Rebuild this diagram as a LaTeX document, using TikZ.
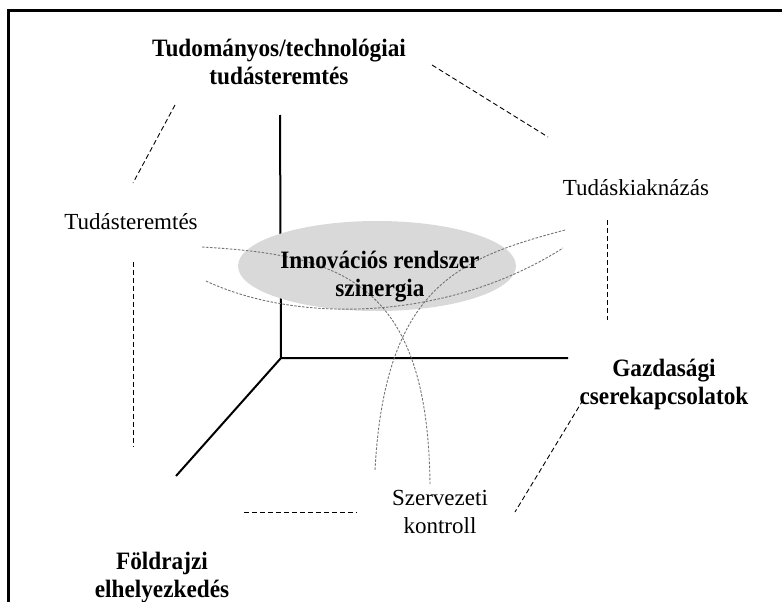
\documentclass[tikz,border=0pt]{standalone}
\usepackage{fontspec}
\setmainfont{Liberation Serif}[BoldFeatures={FakeStretch=0.93}]
\usetikzlibrary{shapes.geometric}
\begin{document}
\begin{tikzpicture}[x=1pt,y=-1pt]
	\tikzset{cimke/.style={align=center, inner sep=0pt, font=\fontsize{23}{28}\selectfont},
	fcimke/.style={cimke, font=\fontsize{25}{28}\selectfont\bfseries},
	tengely/.style={line width=2pt},
	valaszto/.style={dash pattern=on 5pt off 3pt, line width=0.9pt},
	gorbe/.style={black!55, dash pattern=on 2.5pt off 1.5pt, line width=0.9pt}};
	\useasboundingbox (0,0) rectangle (782,602);

	% keret
	\draw[line width=3pt] (8,602) -- (8,11) -- (782,11);

	% tengelyek
	\coordinate (O) at (281,358);
	\coordinate (fent) at (280,115);
	\coordinate (jobb) at (568,358);
	\coordinate (le) at (176,476);
	\draw[tengely] (fent) -- (O) -- (jobb);
	\draw[tengely] (O) -- (le);

	% szinergia
	\node[ellipse, fill=black!15, minimum width=278pt, minimum height=90pt] (ell) at (377,266) {};

	\coordinate (g1a) at (202,247);
	\coordinate (g1b) at (430,485);
	\coordinate (g2a) at (565,230);
	\coordinate (g2b) at (375,470);
	\coordinate (g3a) at (206,281);
	\coordinate (g3b) at (563,248);
	\draw[gorbe] (g1a) .. controls (340,255) and (428,280) .. (g1b);
	\draw[gorbe] (g2a) .. controls (460,258) and (385,285) .. (g2b);
	\draw[gorbe] (g3a) .. controls (300,325) and (450,320) .. (g3b);

	\node[fcimke] (szin) at (380,277) {Innovációs rendszer\\szinergia};

	% cimkek
	\node[fcimke] (tud) at (279,62) {Tudományos/technológiai\\tudásteremtés};
	\node[cimke] (teremt) at (131,222) {Tudásteremtés};
	\node[cimke] (kiakn) at (636,188) {Tudáskiaknázás};
	\node[fcimke] (gazd) at (664,384) {Gazdasági\\cserekapcsolatok};
	\node[cimke] (szerv) at (440,512) {Szervezeti\\kontroll};
	\node[fcimke] (fold) at (162,578) {Földrajzi\\elhelyezkedés};

	% szaggatott valasztok
	\coordinate (v1a) at (175,105);
	\coordinate (v1b) at (133,183);
	\coordinate (v2a) at (432,65);
	\coordinate (v2b) at (548,137);
	\coordinate (v3a) at (133,262);
	\coordinate (v3b) at (133,447);
	\coordinate (v4a) at (607,220);
	\coordinate (v4b) at (607,320);
	\coordinate (v5a) at (583,400);
	\coordinate (v5b) at (515,512);
	\coordinate (v6a) at (244,512);
	\coordinate (v6b) at (357,512);
	\draw[valaszto] (v1a) -- (v1b);
	\draw[valaszto] (v2a) -- (v2b);
	\draw[valaszto] (v3a) -- (v3b);
	\draw[valaszto] (v4a) -- (v4b);
	\draw[valaszto] (v5a) -- (v5b);
	\draw[valaszto] (v6a) -- (v6b);
\end{tikzpicture}
\end{document}
